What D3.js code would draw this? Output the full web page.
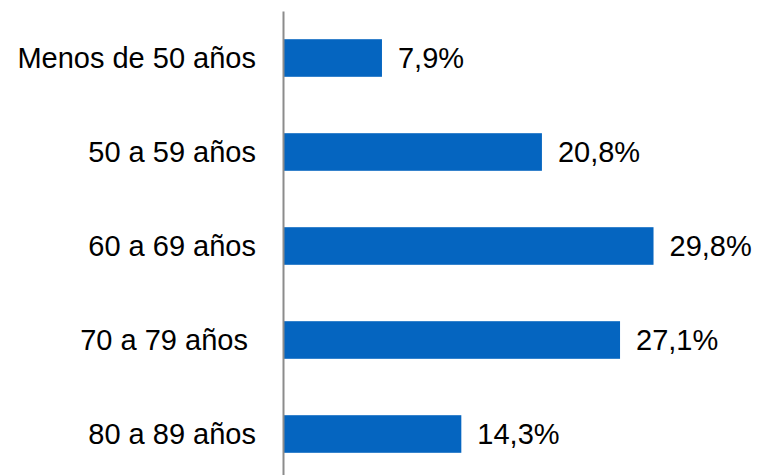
<!DOCTYPE html>
<html>
<head>
<meta charset="utf-8">
<script src="https://cdn.jsdelivr.net/npm/d3@7"></script>
<style>
  body { margin: 0; background: #fff; }
  text { font-family: "Liberation Sans", Arial, sans-serif; font-size: 29px; fill: #000; white-space: pre; }
</style>
</head>
<body>
<svg id="chart"></svg>
<script>
// age groups and share of cases (%)
const categories = ['Menos de 50 años', '50 a 59 años', '60 a 69 años', '70 a 79 años ', '80 a 89 años'];
const values = [7.9, 20.8, 29.8, 27.1, 14.3];
const valueLabels = ['7,9%', '20,8%', '29,8%', '27,1%', '14,3%'];

const width = 765, height = 475;
const axisX = 284;

const svg = d3.select('#chart')
    .attr('width', width)
    .attr('height', height);

const xScale = d3.scaleLinear()
    .domain([0, 30])
    .range([axisX, axisX + 372]);

const yScale = d3.scaleBand()
    .domain(categories)
    .range([11, 481])
    .paddingInner(0.6)
    .paddingOuter(0.3);

const data = categories.map((c, i) => ({ cat: c, value: values[i], label: valueLabels[i] }));

// bars
svg.selectAll('rect.bar')
    .data(data)
    .enter()
  .append('rect')
    .attr('class', 'bar')
    .attr('x', xScale(0))
    .attr('y', d => yScale(d.cat))
    .attr('width', d => xScale(d.value) - xScale(0))
    .attr('height', yScale.bandwidth())
    .attr('fill', '#0565c0');

// vertical axis line, no ticks
const yAxis = d3.axisLeft(yScale).tickSize(0).tickPadding(27);
const yAxisG = svg.append('g')
    .attr('transform', `translate(${axisX - 1},0)`)
    .call(yAxis);
yAxisG.select('.domain')
    .attr('stroke', '#8c8c8c')
    .attr('stroke-width', 2);
yAxisG.selectAll('text')
    .attr('font-family', null)
    .attr('font-size', null)
    .attr('fill', null)
    .attr('dy', '0.35em');
yAxisG.attr('font-size', null).attr('font-family', null);

// value labels
svg.selectAll('text.value')
    .data(data)
    .enter()
  .append('text')
    .attr('class', 'value')
    .attr('x', d => xScale(d.value) + 16)
    .attr('y', d => yScale(d.cat) + yScale.bandwidth() / 2)
    .attr('dy', '0.35em')
    .text(d => d.label);
</script>
</body>
</html>
